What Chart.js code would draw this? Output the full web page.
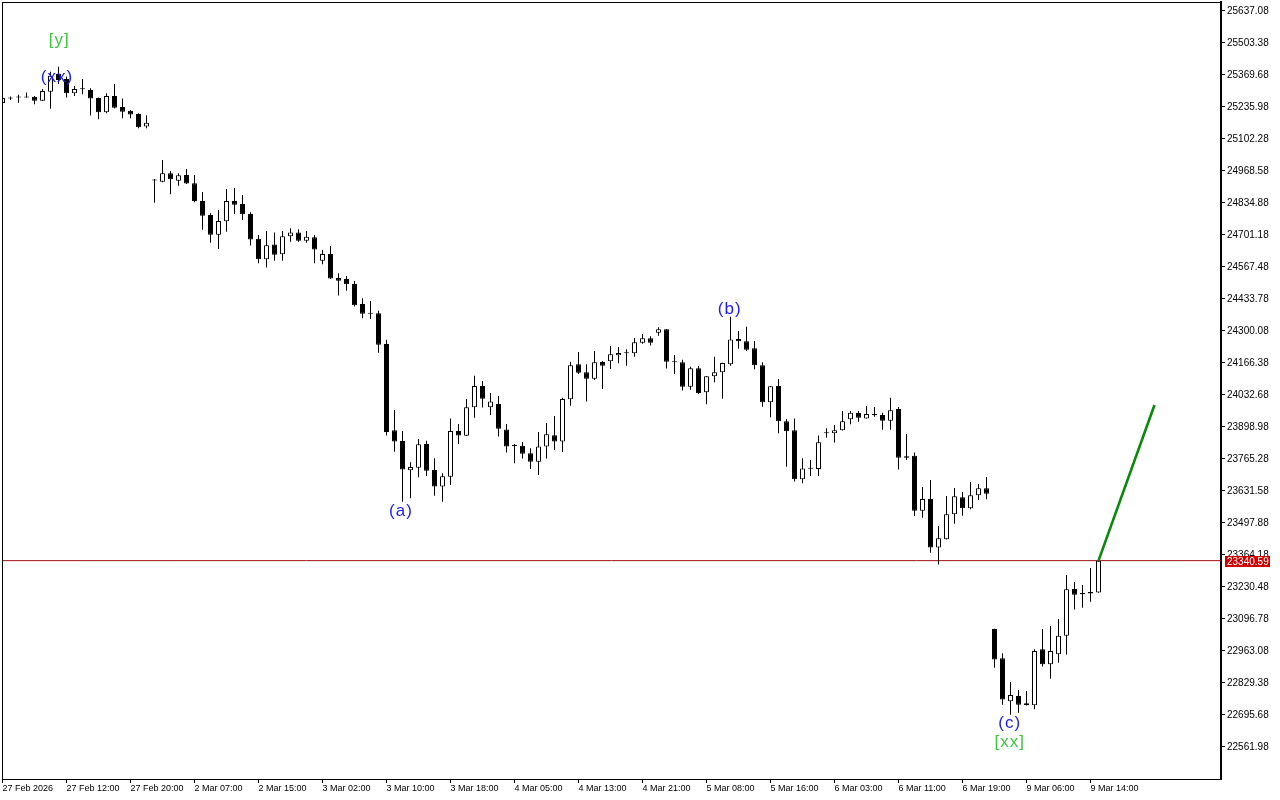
<!DOCTYPE html>
<html>
<head>
<meta charset="utf-8">
<script src="https://cdn.jsdelivr.net/npm/chart.js@4.4.1/dist/chart.umd.min.js"></script>
<style>
  html, body { margin: 0; background: #fff; }
  canvas { display: block; }
</style>
</head>
<body>
<canvas id="chart" width="1280" height="800"></canvas>
<script>
/* ===== US Tech 100 H1 — candles + wave marks ===== */

// H1 candles, index 0 = first visible bar (27 Feb)
const open = [
  25253, 25276, 25277, 25276, 25279, 25262, 25300, 25374, 25353, 25293,
  25310, 25307, 25274, 25214, 25282, 25236, 25220, 25207, 25154, 24931,
  24924, 24959, 24928, 24952, 24917, 24843, 24785, 24702, 24759, 24843,
  24831, 24789, 24685, 24600, 24662, 24621, 24696, 24712, 24677, 24692,
  24594, 24622, 24522, 24517, 24496, 24413, 24374, 24374, 24246, 23885,
  23841, 23718, 23729, 23828, 23719, 23650, 23691, 23882, 23862, 23981,
  24070, 23981, 23995, 23889, 23822, 23821, 23789, 23754, 23818, 23864,
  23838, 24015, 24161, 24128, 24101, 24171, 24174, 24199, 24209, 24207,
  24251, 24270, 24293, 24307, 24174, 24169, 24067, 24144, 24044, 24111,
  24128, 24161, 24267, 24257, 24228, 24157, 24002, 24070, 23923, 23885,
  23681, 23727, 23724, 23877, 23873, 23885, 23931, 23957, 23935, 23953,
  23949, 23925, 23974, 23777, 23779, 23549, 23598, 23395, 23430, 23534,
  23605, 23559, 23614, 23643, 23055, 22933, 22753, 22775, 22736, 22736,
  22970, 22908, 22949, 23027, 23222, 23205, 23210, 23207
];
const high = [
  25282, 25280, 25287, 25297, 25282, 25311, 25383, 25404, 25363, 25324,
  25353, 25314, 25276, 25293, 25332, 25272, 25223, 25210, 25202, 24935,
  25015, 24969, 24959, 24977, 24952, 24881, 24792, 24806, 24893, 24898,
  24868, 24796, 24701, 24718, 24712, 24718, 24729, 24725, 24718, 24701,
  24639, 24655, 24541, 24530, 24509, 24437, 24425, 24385, 24263, 23970,
  23882, 23752, 23849, 23842, 23768, 23706, 23935, 23912, 24016, 24113,
  24091, 24041, 24029, 23912, 23828, 23836, 23810, 23878, 23916, 23945,
  24021, 24172, 24212, 24161, 24217, 24175, 24237, 24233, 24224, 24271,
  24288, 24278, 24316, 24308, 24200, 24180, 24151, 24154, 24112, 24192,
  24167, 24360, 24300, 24318, 24258, 24169, 24070, 24100, 23932, 23935,
  23768, 23761, 23863, 23894, 23907, 23966, 23966, 23966, 23987, 23983,
  23958, 24021, 23983, 23870, 23792, 23648, 23678, 23485, 23611, 23644,
  23627, 23669, 23661, 23690, 23056, 22954, 22834, 22800, 22796, 22970,
  23055, 23068, 23097, 23281, 23251, 23239, 23310, 23342
];
const low = [
  25248, 25265, 25254, 25275, 25247, 25261, 25229, 25332, 25276, 25282,
  25289, 25200, 25185, 25210, 25230, 25189, 25189, 25147, 25147, 24836,
  24922, 24871, 24907, 24914, 24838, 24723, 24669, 24643, 24715, 24789,
  24764, 24657, 24583, 24565, 24594, 24594, 24673, 24673, 24669, 24583,
  24579, 24517, 24448, 24468, 24402, 24353, 24350, 24209, 23863, 23796,
  23587, 23601, 23689, 23694, 23612, 23587, 23657, 23828, 23861, 23938,
  23980, 23949, 23859, 23792, 23747, 23767, 23724, 23698, 23767, 23803,
  23795, 23988, 24120, 24005, 24095, 24058, 24141, 24165, 24155, 24193,
  24247, 24239, 24280, 24143, 24120, 24052, 24055, 24037, 23994, 24086,
  24017, 24155, 24226, 24217, 24140, 23984, 23940, 23873, 23733, 23671,
  23664, 23694, 23694, 23854, 23834, 23884, 23910, 23921, 23934, 23942,
  23887, 23887, 23721, 23761, 23527, 23520, 23374, 23324, 23429, 23495,
  23528, 23555, 23594, 23597, 22893, 22738, 22697, 22705, 22735, 22720,
  22898, 22847, 22914, 22948, 23136, 23144, 23169, 23206
];
const close = [
  25274, 25271, 25276, 25277, 25262, 25303, 25367, 25349, 25293, 25311,
  25311, 25272, 25214, 25282, 25233, 25216, 25205, 25151, 25170, 24929,
  24959, 24934, 24951, 24916, 24843, 24782, 24702, 24760, 24843, 24828,
  24788, 24682, 24600, 24658, 24619, 24696, 24712, 24677, 24694, 24641,
  24622, 24519, 24510, 24495, 24408, 24372, 24372, 24243, 23878, 23838,
  23721, 23732, 23827, 23716, 23650, 23693, 23882, 23863, 23981, 24070,
  24017, 24006, 23892, 23817, 23820, 23787, 23754, 23818, 23869, 23838,
  24016, 24157, 24126, 24101, 24169, 24155, 24203, 24208, 24207, 24253,
  24270, 24251, 24307, 24172, 24169, 24067, 24144, 24041, 24111, 24128,
  24166, 24265, 24257, 24222, 24157, 24002, 24069, 23923, 23881, 23681,
  23726, 23725, 23835, 23873, 23885, 23923, 23958, 23938, 23953, 23948,
  23925, 23969, 23771, 23771, 23549, 23598, 23395, 23434, 23534, 23610,
  23559, 23614, 23643, 23620, 22928, 22760, 22779, 22739, 22745, 22963,
  22908, 22963, 23027, 23221, 23198, 23200, 23203, 23340.59
];

// time axis: one label every 8 bars
const xTickLabels = [
  "27 Feb 2026", "27 Feb 12:00", "27 Feb 20:00", "2 Mar 07:00", "2 Mar 15:00",
  "3 Mar 02:00", "3 Mar 10:00", "3 Mar 18:00", "4 Mar 05:00", "4 Mar 13:00",
  "4 Mar 21:00", "5 Mar 08:00", "5 Mar 16:00", "6 Mar 03:00", "6 Mar 11:00",
  "6 Mar 19:00", "9 Mar 06:00", "9 Mar 14:00"
];
const BARS_PER_LABEL = 8;

// price axis
const yTicks = [
  22561.98, 22695.68, 22829.38, 22963.08, 23096.78, 23230.48, 23364.18, 23497.88,
  23631.58, 23765.28, 23898.98, 24032.68, 24166.38, 24300.08, 24433.78, 24567.48,
  24701.18, 24834.88, 24968.58, 25102.28, 25235.98, 25369.68, 25503.38, 25637.08
];
const Y_MIN = 22428.28, Y_MAX = 25674.68;

// projected move (green) from the last close
const projBars = [137, 144];
const projPrices = [23340.59, 23991];

// wave marks: text, bar index, price anchor
const waveLabels = [
  { text: "[y]",  bar: 7.1,   price: 25516 },
  { text: "(xx)", bar: 6.8,   price: 25361 },
  { text: "(a)",  bar: 49.8,  price: 23548 },
  { text: "(b)",  bar: 90.9,  price: 24392 },
  { text: "(c)",  bar: 125.9, price: 22662 },
  { text: "[xx]", bar: 125.9, price: 22583 }
];

const lastPrice = close[close.length - 1];
const AXIS_FONT = "Liberation Sans";

/* ---------- overlay: frame, wave marks, price tag ---------- */
const overlay = {
  id: "overlay",
  afterDraw(chart) {
    const { ctx, chartArea: a, scales: { x, y } } = chart;
    ctx.save();
    ctx.strokeStyle = "#000"; ctx.lineWidth = 1;
    ctx.strokeRect(a.left + 0.5, a.top + 0.5, a.right - a.left, a.bottom - a.top);

    ctx.font = '17px "Liberation Sans", Arial, sans-serif';
    if ("letterSpacing" in ctx) ctx.letterSpacing = "1px";
    ctx.textAlign = "center"; ctx.textBaseline = "middle";
    waveLabels.forEach(l => {
      ctx.fillStyle = l.text.startsWith("[") ? "#3cc83c" : "#1a1aff";
      ctx.fillText(l.text, x.getPixelForValue(l.bar), y.getPixelForValue(l.price));
    });
    if ("letterSpacing" in ctx) ctx.letterSpacing = "0px";

    // last price tag
    const py = Math.round(y.getPixelForValue(lastPrice));
    ctx.fillStyle = "#d00000";
    ctx.fillRect(a.right + 4, py - 5, 45, 11);
    ctx.fillStyle = "#fff";
    ctx.font = `10px "${AXIS_FONT}", sans-serif`;
    ctx.textAlign = "left";
    ctx.fillText(lastPrice.toFixed(2), a.right + 6, py + 1);
    ctx.restore();
  }
};

const isUp = (i) => close[i] >= open[i];

new Chart(document.getElementById("chart"), {
  type: "bar",
  data: {
    datasets: [
      { // price line
        type: "line",
        data: [{ x: -1, y: lastPrice }, { x: 160, y: lastPrice }],
        borderColor: "#a01010", borderWidth: 1, pointRadius: 0, order: 4
      },
      { // wicks
        data: open.map((_, i) => ({ x: i, y: [low[i], high[i]] })),
        backgroundColor: "#000", borderWidth: 0, barThickness: 1,
        grouped: false, inflateAmount: 0, order: 3
      },
      { // bodies
        data: open.map((o, i) => ({ x: i, y: [o, close[i]] })),
        backgroundColor: (c) => (c.type === "data" && isUp(c.dataIndex)) ? "#fff" : "#000",
        borderColor: "#000", borderWidth: 1, borderSkipped: false,
        barThickness: 5, minBarLength: 1, grouped: false, inflateAmount: 0, order: 2
      },
      { // projection
        type: "line",
        data: projBars.map((b, i) => ({ x: b, y: projPrices[i] })),
        borderColor: "#0a8a0a", borderWidth: 2.6, pointRadius: 0, order: 1
      }
    ]
  },
  options: {
    responsive: false, animation: false, devicePixelRatio: 1, events: [],
    layout: { padding: { left: 2, top: 2, right: 0, bottom: 0 } },
    plugins: { legend: { display: false }, tooltip: { enabled: false } },
    scales: {
      x: {
        type: "linear", position: "bottom", offset: false, bounds: "data",
        min: -0.0625, max: 152.3125,
        afterBuildTicks: (s) => { s.ticks = xTickLabels.map((_, i) => ({ value: i * BARS_PER_LABEL })); },
        afterFit: (s) => { s.height = 21; s.paddingLeft = 0; s.paddingRight = 0; },
        ticks: {
          autoSkip: false, maxRotation: 0, minRotation: 0, align: "start", padding: 0,
          color: "#000", font: { family: AXIS_FONT, size: 9 },
          callback: (v, i) => xTickLabels[i]
        },
        grid: { drawOnChartArea: false, drawTicks: true, tickLength: 4, color: "#000", offset: false },
        border: { color: "#000", width: 1 }
      },
      y: {
        type: "linear", position: "right", bounds: "data", beginAtZero: false,
        min: Y_MIN, max: Y_MAX,
        afterBuildTicks: (s) => { s.ticks = yTicks.map(v => ({ value: v })); },
        afterFit: (s) => { s.width = 59; s.paddingTop = 0; s.paddingBottom = 0; },
        ticks: {
          autoSkip: false, padding: 2, color: "#000",
          font: { family: AXIS_FONT, size: 10 },
          callback: (v) => v.toFixed(2)
        },
        grid: { drawOnChartArea: false, drawTicks: true, tickLength: 4, color: "#000" },
        border: { color: "#000", width: 2 }
      }
    }
  },
  plugins: [overlay]
});
</script>
</body>
</html>
